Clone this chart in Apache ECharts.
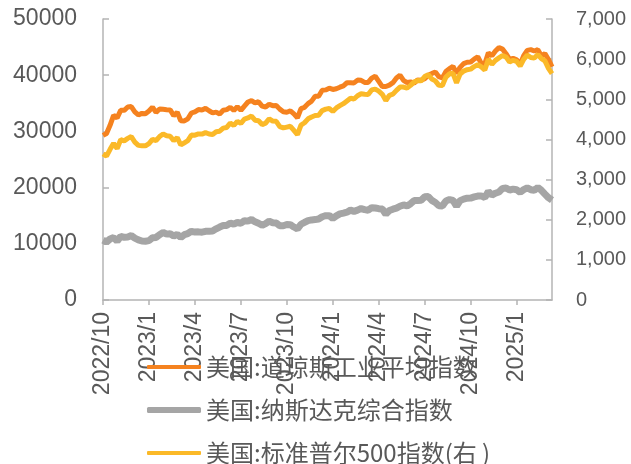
<!DOCTYPE html>
<html>
<head>
<meta charset="utf-8">
<title>美国股指</title>
<script src="https://cdn.jsdelivr.net/npm/echarts@6/dist/echarts.min.js"></script>
<style>
  html, body { margin: 0; padding: 0; background: #fff; }
  #main { width: 631px; height: 464px; }
</style>
</head>
<body>
<div id="main"></div>
<script>
// weekly (Friday) observations, 2022/10/7 .. 2025/3/14
var startDay = '2022-10-07';
var weekCount = 128;

var dowSeries = [
  29297, 29635, 31083, 32862, 32403, 33748, 33746, 34347, 34430, 33477, 32920, 33204, 33147,
  33631, 34303, 33375, 33978, 33926, 33869, 33827, 32817, 33391, 31910, 31862, 32238, 33274,
  33485, 33886, 33809, 34098, 33674, 33300, 33427, 33093, 33762, 33877, 34299, 33727, 34408,
  33734, 34509, 35228, 35459, 35066, 35281, 34500, 34346, 34837, 34577, 34618, 33964, 33508,
  33408, 33670, 33127, 32418, 34061, 34283, 34947, 35390, 36246, 36248, 37306, 37386, 37690,
  37466, 37593, 37864, 38109, 38654, 38672, 38628, 39131, 39087, 38723, 38715, 39476, 39807,
  38904, 37983, 37986, 38240, 38676, 39513, 40004, 39070, 38686, 38799, 38589, 39150, 39119,
  39376, 40001, 40288, 40589, 39737, 39498, 40660, 41175, 41563, 40345, 41394, 42063, 42313,
  42352, 42864, 43276, 42114, 42052, 43989, 43445, 44296, 44911, 44642, 43828, 42840, 42992,
  42732, 41938, 43488, 44424, 44545, 44303, 44546, 43428, 43841, 42802, 41488
];

var nasdaqSeries = [
  10652, 10321, 10859, 11102, 10475, 11323, 11146, 11226, 11461, 11005, 10705, 10497, 10466,
  10569, 11079, 11140, 11621, 12006, 11718, 11787, 11395, 11689, 11138, 11631, 11824, 12222,
  12088, 12123, 12073, 12227, 12235, 12285, 12658, 12975, 13241, 13259, 13689, 13492, 13788,
  13661, 14113, 14032, 14317, 13909, 13645, 13290, 13590, 14031, 13761, 13708, 13212, 13219,
  13431, 13407, 12984, 12643, 13478, 13798, 14125, 14250, 14305, 14404, 14813, 14993, 15011,
  14524, 14973, 15311, 15455, 15629, 15990, 15776, 15997, 16275, 16085, 15973, 16429, 16379,
  16249, 16175, 15282, 15928, 16156, 16341, 16686, 16921, 16735, 17133, 17689, 17689, 17733,
  18353, 18398, 17727, 17358, 16776, 16746, 17632, 17877, 17714, 16690, 17684, 17948, 18120,
  18138, 18343, 18490, 18519, 18240, 19287, 18680, 19004, 19218, 19860, 19927, 19573, 19722,
  19622, 19162, 19630, 19955, 19627, 19523, 20027, 19525, 18847, 18196, 17754
];

var spxSeries = [
  3640, 3583, 3753, 3901, 3771, 3993, 3965, 4026, 4072, 3934, 3852, 3845, 3840,
  3895, 3999, 3973, 4071, 4136, 4090, 4079, 3970, 4046, 3862, 3917, 3971, 4109,
  4105, 4138, 4133, 4169, 4136, 4124, 4192, 4205, 4282, 4299, 4410, 4348, 4450,
  4399, 4505, 4536, 4582, 4478, 4464, 4370, 4406, 4516, 4457, 4450, 4320, 4288,
  4308, 4328, 4224, 4117, 4358, 4415, 4514, 4559, 4595, 4604, 4719, 4755, 4770,
  4697, 4784, 4840, 4891, 4959, 5027, 5006, 5089, 5137, 5124, 5117, 5234, 5254,
  5204, 5123, 4967, 5100, 5128, 5223, 5303, 5305, 5278, 5347, 5432, 5465, 5460,
  5567, 5615, 5505, 5459, 5347, 5344, 5554, 5635, 5648, 5408, 5626, 5703, 5738,
  5751, 5815, 5865, 5808, 5729, 5996, 5870, 5969, 6032, 6090, 6051, 5931, 5971,
  5942, 5827, 5997, 6101, 6041, 6026, 6115, 6013, 5955, 5770, 5639
];

var seriesNames = ['美国:道琼斯工业平均指数', '美国:纳斯达克综合指数', '美国:标准普尔500指数(右 )'];
var seriesColors = ['#F5821F', '#A5A5A5', '#FBB928'];
var lineWidths = [5, 7, 5];
var legendLineWidths = [4, 6, 4];

// category dates
var dates = [];
var d0 = new Date(startDay + 'T00:00:00Z');
for (var i = 0; i < weekCount; i++) {
  var d = new Date(d0.getTime() + i * 7 * 86400000);
  dates.push(d.getUTCFullYear() + '-' + (d.getUTCMonth() + 1) + '-' + d.getUTCDate());
}

function monthOf(s) { return +s.split('-')[1]; }
function quarterStart(idx) {
  var m = monthOf(dates[idx]);
  if ([1, 4, 7, 10].indexOf(m) < 0) return false;
  return idx === 0 || monthOf(dates[idx - 1]) !== m;
}

var textColor = '#595959';
var axisColor = '#B4B4B4';

// one legend per row so nothing wraps
var legendRows = [350, 393, 436];
var legends = seriesNames.map(function (name, k) {
  return {
    orient: 'horizontal',
    left: 142,
    top: legendRows[k],
    itemWidth: 54,
    itemHeight: legendLineWidths[k],
    icon: 'roundRect',
    textStyle: { color: textColor, fontSize: 24, lineHeight: 24, fontFamily: 'Noto Sans CJK SC' },
    data: [name]
  };
});

var chart = echarts.init(document.getElementById('main'));
chart.setOption({
  animation: false,
  grid: { left: 103, right: 79, top: 19, bottom: 164 },
  legend: legends,
  xAxis: {
    type: 'category',
    data: dates,
    boundaryGap: false,
    axisLine: { lineStyle: { color: axisColor, width: 1.5 } },
    axisTick: { interval: function (idx) { return quarterStart(idx); }, length: 5, lineStyle: { color: axisColor, width: 1.5 } },
    axisLabel: {
      interval: function (idx) { return quarterStart(idx); },
      rotate: 90,
      margin: 12,
      color: textColor,
      fontSize: 23,
      fontFamily: 'Liberation Sans',
      formatter: function (v) { var p = v.split('-'); return p[0] + '/' + p[1]; }
    },
    splitLine: { show: false }
  },
  yAxis: [
    {
      type: 'value', min: 0, max: 50000, interval: 10000,
      axisLine: { show: true, lineStyle: { color: axisColor, width: 1.5 } },
      axisTick: { show: true, inside: true, length: 6, lineStyle: { color: axisColor, width: 1.5 } },
      axisLabel: { margin: 26, color: textColor, fontSize: 23, fontFamily: 'Liberation Sans',
        formatter: function (v) { return String(v); } },
      splitLine: { show: false }
    },
    {
      type: 'value', min: 0, max: 7000, interval: 1000,
      axisLine: { show: true, lineStyle: { color: axisColor, width: 1.5 } },
      axisTick: { show: true, inside: true, length: 6, lineStyle: { color: axisColor, width: 1.5 } },
      axisLabel: {
        margin: 24, color: textColor, fontSize: 20, fontFamily: 'Liberation Sans',
        formatter: function (v) { return v.toLocaleString('en-US'); }
      },
      splitLine: { show: false }
    }
  ],
  series: [
    { name: seriesNames[0], type: 'line', data: dowSeries, yAxisIndex: 0, showSymbol: false, symbol: 'none',
      itemStyle: { color: seriesColors[0] }, lineStyle: { color: seriesColors[0], width: lineWidths[0] } },
    { name: seriesNames[1], type: 'line', data: nasdaqSeries, yAxisIndex: 0, showSymbol: false, symbol: 'none',
      itemStyle: { color: seriesColors[1] }, lineStyle: { color: seriesColors[1], width: lineWidths[1] } },
    { name: seriesNames[2], type: 'line', data: spxSeries, yAxisIndex: 1, showSymbol: false, symbol: 'none',
      itemStyle: { color: seriesColors[2] }, lineStyle: { color: seriesColors[2], width: lineWidths[2] } }
  ]
});
</script>
</body>
</html>
